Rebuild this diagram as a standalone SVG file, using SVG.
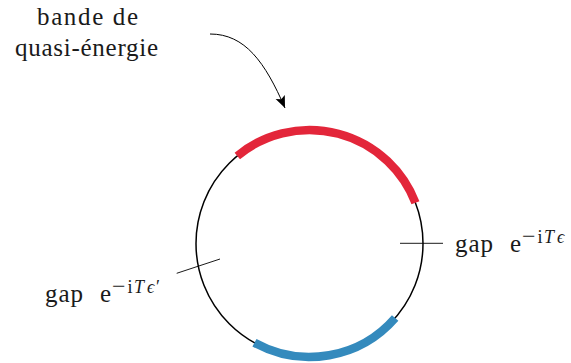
<svg xmlns="http://www.w3.org/2000/svg" width="571" height="363" viewBox="0 0 571 363">
<style>
text{font-family:'Liberation Serif','Times New Roman','DejaVu Serif',serif;font-size:25px;fill:#1a1a1a}
.sup{font-size:18px}
.mn{font-size:24px}
.it{font-style:italic}
.tick{stroke:#000;stroke-width:0.9;fill:none}
.band{fill:none;stroke-width:8.5;stroke-linecap:butt}
</style>
<defs>
<marker id="ah" markerUnits="userSpaceOnUse" markerWidth="14" markerHeight="12" viewBox="0 0 14 12" refX="12" refY="6" orient="auto">
<path d="M0,1 L12,6 L0,11 L2.5,6 Z" fill="#000"/>
</marker>
</defs>
<g id="ring">
<circle cx="309.5" cy="243.5" r="113.5" fill="none" stroke="#000" stroke-width="1.5"/>
</g>
<g id="band-red">
<path class="band" stroke="#E3263A" d="M237.3,155.92 A113.5,113.5 0 0 1 415.46,202.82"/>
</g>
<g id="band-blue">
<path class="band" stroke="#348ABD" d="M254.47,342.76 A113.5,113.5 0 0 0 395.16,317.97"/>
</g>
<g id="connectors">
<path d="M210,34 C245,34 265,62 285,108" fill="none" stroke="#000" stroke-width="1" marker-end="url(#ah)"/>
<line class="tick" x1="400" y1="243.3" x2="443" y2="243.3"/>
<line class="tick" x1="176.7" y1="273.3" x2="220" y2="259"/>
</g>
<g id="label-band">
<text x="37" y="25" textLength="101" lengthAdjust="spacing">bande de</text>
<text x="15" y="56" textLength="143" lengthAdjust="spacing">quasi-énergie</text>
</g>
<g id="label-gap-right">
<text x="455" y="252" textLength="38" lengthAdjust="spacing">gap</text>
<text x="510" y="252">e</text>
<text class="sup" y="242.5"><tspan class="mn" x="522" y="244">−</tspan><tspan x="537.5" y="242.5">i</tspan><tspan class="it" x="544">T</tspan><tspan class="it" x="557">ϵ</tspan></text>
</g>
<g id="label-gap-left">
<text x="45" y="302" textLength="38" lengthAdjust="spacing">gap</text>
<text x="100" y="302">e</text>
<text class="sup" y="292.5"><tspan class="mn" x="112" y="294">−</tspan><tspan x="127.5" y="292.5">i</tspan><tspan class="it" x="134">T</tspan><tspan class="it" x="147">ϵ</tspan><tspan x="156">′</tspan></text>
</g>
</svg>
